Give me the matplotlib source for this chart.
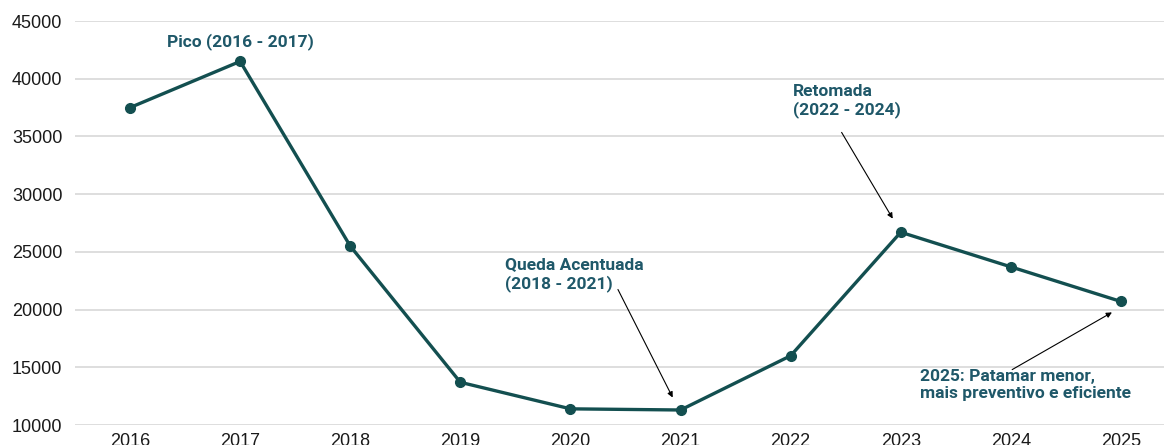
import matplotlib.pyplot as plt

# yearly totals
anos = ['2016', '2017', '2018', '2019', '2020', '2021', '2022', '2023', '2024', '2025']
valores = [37500, 41500, 25500, 13700, 11400, 11300, 16000, 26700, 23700, 20700]
y_ticks = [10000, 15000, 20000, 25000, 30000, 35000, 40000, 45000]

cor_linha = '#134f50'
cor_texto = '#1f5869'
fonte_nota = ['Roboto', 'DejaVu Sans']

fig = plt.figure(figsize=(11.64, 4.45), dpi=100)
ax = fig.add_axes([75 / 1164, 20 / 445, 1101 / 1164, 404 / 445])

x = list(range(len(anos)))
ax.plot(x, valores, color=cor_linha, linewidth=2.4, marker='o', markersize=7, zorder=3)

ax.set_xlim(-0.5, len(anos) - 0.5)
ax.set_ylim(10000, 45000)
ax.set_yticks(y_ticks)
ax.set_xticks(x)
ax.set_xticklabels(anos)
ax.grid(axis='y', color='#d4d4d4', linewidth=1.1)
ax.set_axisbelow(True)
for s in ax.spines.values():
    s.set_visible(False)
ax.tick_params(axis='both', length=0, labelsize=13, labelcolor='#1a1a1a')
ax.tick_params(axis='y', pad=9)
ax.tick_params(axis='x', pad=6)
for lbl in ax.get_xticklabels() + ax.get_yticklabels():
    lbl.set_family('Liberation Sans')

# annotations
nota = dict(color=cor_texto, family=fonte_nota, fontweight='bold', fontsize=12.5, linespacing=1.2)
ax.text(1.0, 43181, 'Pico (2016 - 2017)', ha='center', va='center', **nota)

seta = dict(arrowstyle='-|>', color='black', lw=0.8, mutation_scale=8)
ax.annotate('', xy=(4.94, 12166), xytext=(4.42, 21955), arrowprops=seta)
ax.text(3.406, 24550, 'Queda Acentuada\n(2018 - 2021)', ha='left', va='top', **nota)

ax.annotate('', xy=(6.94, 27673), xytext=(6.45, 35557), arrowprops=seta)
ax.text(6.022, 39550, 'Retomada\n(2022 - 2024)', ha='left', va='top', **nota)

ax.annotate('', xy=(8.94, 19876), xytext=(7.99, 14678), arrowprops=seta)
ax.text(7.175, 14850, '2025: Patamar menor,\nmais preventivo e eficiente', ha='left', va='top', **nota)

fig.savefig('out.png', dpi=100)
